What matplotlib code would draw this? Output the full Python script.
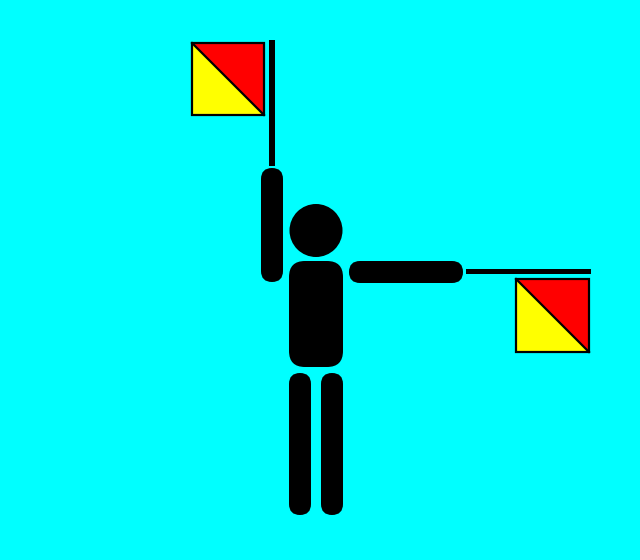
import matplotlib
matplotlib.use('Agg')
import matplotlib.pyplot as plt
from matplotlib.patches import FancyBboxPatch, Rectangle, Circle, Polygon

# scene in pixel units (x right, y down)
bg_colour = '#00FFFF'

# rounded body parts: x, y, width, height, corner radius
limbs = [
    (261, 168, 22, 114, 11),   # raised arm
    (349, 261, 114, 22, 11),   # outstretched arm
    (289, 261, 54, 106, 16),   # torso
    (289, 373, 22, 142, 11),   # left leg
    (321, 373, 22, 142, 11),   # right leg
]
head = (316, 230.5, 26.5)

# flag poles: x, y, width, height
poles = [(269, 40, 6, 126), (466, 269, 125, 5)]
# flags: left, top, size
flags = [(192, 43, 72), (516, 279, 73)]

fig = plt.figure(figsize=(6.4, 5.6), dpi=100)
fig.patch.set_facecolor(bg_colour)
ax = fig.add_axes([0, 0, 1, 1])
ax.set_facecolor(bg_colour)
ax.set_xlim(0, 640)
ax.set_ylim(560, 0)
ax.axis('off')

for x, y, w, h, r in limbs:
    ax.add_patch(FancyBboxPatch((x, y), w, h, boxstyle='round,pad=0,rounding_size=%s' % r,
                                facecolor='black', edgecolor='none'))
ax.add_patch(Circle(head[:2], head[2], facecolor='black', edgecolor='none'))

for x, y, w, h in poles:
    ax.add_patch(Rectangle((x, y), w, h, facecolor='black', edgecolor='none'))

for x, y, s in flags:
    ax.add_patch(Polygon([(x, y), (x, y + s), (x + s, y + s)], closed=True,
                         facecolor='#FFFF00', edgecolor='none'))
    ax.add_patch(Polygon([(x, y), (x + s, y), (x + s, y + s)], closed=True,
                         facecolor='#FF0000', edgecolor='none'))
    ax.plot([x, x + s], [y, y + s], color='black', lw=1.6)
    ax.add_patch(Rectangle((x, y), s, s, facecolor='none', edgecolor='black', lw=1.6))

fig.savefig('out.png', dpi=100, facecolor=bg_colour)
